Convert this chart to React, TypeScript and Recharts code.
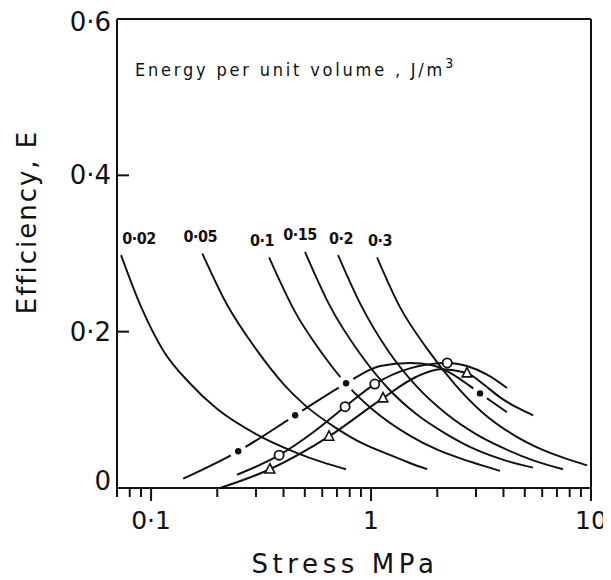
import React from 'react';
import { ComposedChart, Line, XAxis, YAxis, ReferenceLine } from 'recharts';

// ---- axes ----
const xTicks = [0.07, 0.08, 0.09, 0.1, 0.2, 0.3, 0.4, 0.5, 0.6, 0.7, 0.8, 0.9, 1, 2, 3, 4, 5, 6, 7, 8, 9, 10];
const xMajorTicks = [0.1, 1, 10];
const xMajorLabels = ['0·1', '1', '10'];
const yTicks = [0, 0.2, 0.4, 0.6];
const yTickLabels = ['0', '0·2', '0·4', '0·6'];
const xTitle = 'Stress MPa';
const yTitle = 'Efficiency, E';
const noteText = 'Energy per unit volume , J/m';
const noteSup = '3';

// ---- iso-energy curves (energy per unit volume) ----
const energyLabels = ['0·02', '0·05', '0·1', '0·15', '0·2', '0·3'];
const iso002Stress = [0.073, 0.09, 0.1135, 0.15, 0.2, 0.3, 0.45, 0.6, 0.77];
const iso002Eff = [0.298, 0.232, 0.176, 0.134, 0.101, 0.069, 0.046, 0.033, 0.024];
const iso005Stress = [0.171, 0.22, 0.303, 0.4, 0.5, 0.7, 0.9, 1.2, 1.5, 1.8];
const iso005Eff = [0.3, 0.236, 0.176, 0.133, 0.106, 0.076, 0.058, 0.043, 0.032, 0.024];
const iso01Stress = [0.344, 0.45, 0.6, 0.8, 1.0, 1.5, 2.0, 2.8, 3.86];
const iso01Eff = [0.295, 0.226, 0.172, 0.128, 0.102, 0.067, 0.049, 0.034, 0.022];
const iso015Stress = [0.501, 0.65, 0.89, 1.2, 1.6, 2.2, 3.0, 4.0, 5.45];
const iso015Eff = [0.302, 0.233, 0.172, 0.127, 0.095, 0.069, 0.049, 0.036, 0.026];
const iso02Stress = [0.708, 0.9, 1.2, 1.6, 2.2, 3.0, 4.0, 5.5, 7.46];
const iso02Eff = [0.298, 0.234, 0.175, 0.131, 0.095, 0.069, 0.051, 0.035, 0.024];
const iso03Stress = [1.065, 1.35, 1.8, 2.4, 3.2, 4.5, 6.0, 8.0, 9.6];
const iso03Eff = [0.295, 0.232, 0.178, 0.133, 0.097, 0.067, 0.049, 0.036, 0.029];

// ---- efficiency curves ----
// dash-dot with filled dots
const dotLineStress = [0.14, 0.249, 0.452, 0.77, 1.1, 1.5, 1.9, 2.3, 2.8, 3.13, 3.6, 4.15];
const dotLineEff = [0.012, 0.047, 0.093, 0.134, 0.156, 0.16, 0.157, 0.147, 0.131, 0.121, 0.109, 0.097];
const dotMarkStress = [0.249, 0.452, 0.77, 3.13];
// open circles
const circLineStress = [0.246, 0.382, 0.55, 0.762, 1.04, 1.5, 2.22, 2.73, 3.37, 4.15];
const circLineEff = [0.017, 0.042, 0.072, 0.104, 0.133, 0.153, 0.16, 0.156, 0.145, 0.128];
const circMarkStress = [0.382, 0.762, 1.04, 2.22];
// open triangles
const triLineStress = [0.206, 0.347, 0.644, 1.134, 1.6, 2.06, 2.73, 3.3, 3.86, 4.6, 5.46];
const triLineEff = [0.0, 0.024, 0.066, 0.115, 0.142, 0.152, 0.147, 0.131, 0.116, 0.103, 0.093];
const triMarkStress = [0.347, 0.644, 1.134, 2.73];

const toPoints = (xs: number[], ys: number[]) => xs.map((x, i) => ({ x, y: ys[i] }));

const isoCurves = [
  toPoints(iso002Stress, iso002Eff),
  toPoints(iso005Stress, iso005Eff),
  toPoints(iso01Stress, iso01Eff),
  toPoints(iso015Stress, iso015Eff),
  toPoints(iso02Stress, iso02Eff),
  toPoints(iso03Stress, iso03Eff),
];
const isoLabelDx = [18, -2, -7, -5, 3, 3];

const FONT = "'DejaVu Sans', 'Noto Sans', sans-serif";
const NARROW = "'DejaVu Sans Condensed', 'Liberation Sans Narrow', 'DejaVu Sans', sans-serif";
const INK = '#111';

const XTick = (props: any) => {
  const { x, y, payload } = props;
  const idx = xMajorTicks.indexOf(payload.value);
  const major = idx >= 0;
  return (
    <g>
      <line x1={x} x2={x} y1={y} y2={y + (major ? 13 : 9)} stroke={INK} strokeWidth={2} />
      {major && (
        <text x={x} y={y + 32} textAnchor="middle" dominantBaseline="central" fontFamily={FONT} fontSize={25} fill={INK}>
          {xMajorLabels[idx]}
        </text>
      )}
    </g>
  );
};

const YTick = (props: any) => {
  const { x, y, payload } = props;
  const idx = yTicks.indexOf(payload.value);
  const inner = payload.value > 0 && payload.value < 0.6;
  const dy = payload.value === 0 ? -7 : payload.value === 0.6 ? 3 : 0;
  return (
    <g>
      {inner && <line x1={x} x2={x + 12} y1={y} y2={y} stroke={INK} strokeWidth={2} />}
      <text x={x - 6} y={y + dy} textAnchor="end" dominantBaseline="central" fontFamily={FONT} fontSize={26} fill={INK}>
        {yTickLabels[idx]}
      </text>
    </g>
  );
};

const YTitle = (props: any) => {
  const vb = props.viewBox;
  const cx = vb.x - 30;
  const cy = vb.y + 203;
  return (
    <text x={cx} y={cy} transform={`rotate(-90 ${cx} ${cy})`} textAnchor="middle" dominantBaseline="central" fontFamily={FONT} fontSize={26} letterSpacing={2} fill={INK}>
      {yTitle}
    </text>
  );
};

const XTitle = (props: any) => {
  const vb = props.viewBox;
  return (
    <text x={vb.x + 228} y={vb.y + 85} textAnchor="middle" fontFamily={FONT} fontSize={26} letterSpacing={4.6} fill={INK}>
      {xTitle}
    </text>
  );
};

const NoteLabel = (props: any) => {
  const vb = props.viewBox;
  return (
    <text x={vb.x + 18} y={vb.y + 57} fontFamily={NARROW} fontSize={18} letterSpacing={2.8} fill={INK}>
      {noteText}
      <tspan dy={-8} fontSize={14}>{noteSup}</tspan>
    </text>
  );
};

const makeIsoLabel = (i: number) => (p: any) => {
  if (p.index !== 0) return <g key={`l${i}-${p.index}`} />;
  return (
    <text key={`l${i}-0`} x={p.x + isoLabelDx[i]} y={p.y - 17} textAnchor="middle" dominantBaseline="central" fontFamily={NARROW} fontWeight="bold" fontSize={16} letterSpacing={-0.5} fill={INK}>
      {energyLabels[i]}
    </text>
  );
};

const isMark = (marks: number[], v: number) => marks.indexOf(v) >= 0;

const dotMarker = (p: any) => {
  if (!isMark(dotMarkStress, p.payload.x)) return <g key={`a${p.index}`} />;
  return (
    <g key={`a${p.index}`}>
      <circle cx={p.cx} cy={p.cy} r={8.5} fill="#fff" />
      <circle cx={p.cx} cy={p.cy} r={3.2} fill={INK} />
    </g>
  );
};
const circleMarker = (p: any) => {
  if (!isMark(circMarkStress, p.payload.x)) return <g key={`b${p.index}`} />;
  return <circle key={`b${p.index}`} cx={p.cx} cy={p.cy} r={4.6} fill="#fff" stroke={INK} strokeWidth={1.8} />;
};
const triMarker = (p: any) => {
  if (!isMark(triMarkStress, p.payload.x)) return <g key={`c${p.index}`} />;
  return (
    <path key={`c${p.index}`} d={`M${p.cx},${p.cy - 5.5} L${p.cx + 4.8},${p.cy + 3.8} L${p.cx - 4.8},${p.cy + 3.8} Z`} fill="#fff" stroke={INK} strokeWidth={1.6} />
  );
};

export default function App() {
  return (
    <ComposedChart width={603} height={572} margin={{ top: 11, right: 20, bottom: 42, left: 49 }}>
      <XAxis
        dataKey="x"
        type="number"
        scale="log"
        domain={[0.07, 10]}
        allowDataOverflow
        ticks={xTicks}
        interval={0}
        height={50}
        tickSize={0}
        tickMargin={0}
        tickLine={false}
        axisLine={{ stroke: INK, strokeWidth: 2 }}
        tick={<XTick />}
        label={<XTitle />}
      />
      <YAxis
        dataKey="y"
        type="number"
        domain={[0, 0.6]}
        allowDataOverflow
        ticks={yTicks}
        interval={0}
        width={60}
        tickSize={0}
        tickMargin={0}
        tickLine={false}
        axisLine={{ stroke: INK, strokeWidth: 2 }}
        tick={<YTick />}
        label={<YTitle />}
      />
      <ReferenceLine y={0.6} stroke={INK} strokeWidth={2} label={<NoteLabel />} />
      <ReferenceLine x={10} stroke={INK} strokeWidth={2} />

      <Line data={toPoints(dotLineStress, dotLineEff)} dataKey="y" type="monotone" stroke={INK} strokeWidth={2} dot={dotMarker} activeDot={false} isAnimationActive={false} />

      {isoCurves.map((pts, i) => (
        <Line key={i} data={pts} dataKey="y" type="monotone" stroke={INK} strokeWidth={1.9} dot={false} activeDot={false} isAnimationActive={false} label={makeIsoLabel(i)} />
      ))}

      <Line data={toPoints(circLineStress, circLineEff)} dataKey="y" type="monotone" stroke={INK} strokeWidth={2} dot={circleMarker} activeDot={false} isAnimationActive={false} />
      <Line data={toPoints(triLineStress, triLineEff)} dataKey="y" type="monotone" stroke={INK} strokeWidth={2} dot={triMarker} activeDot={false} isAnimationActive={false} />
    </ComposedChart>
  );
}
